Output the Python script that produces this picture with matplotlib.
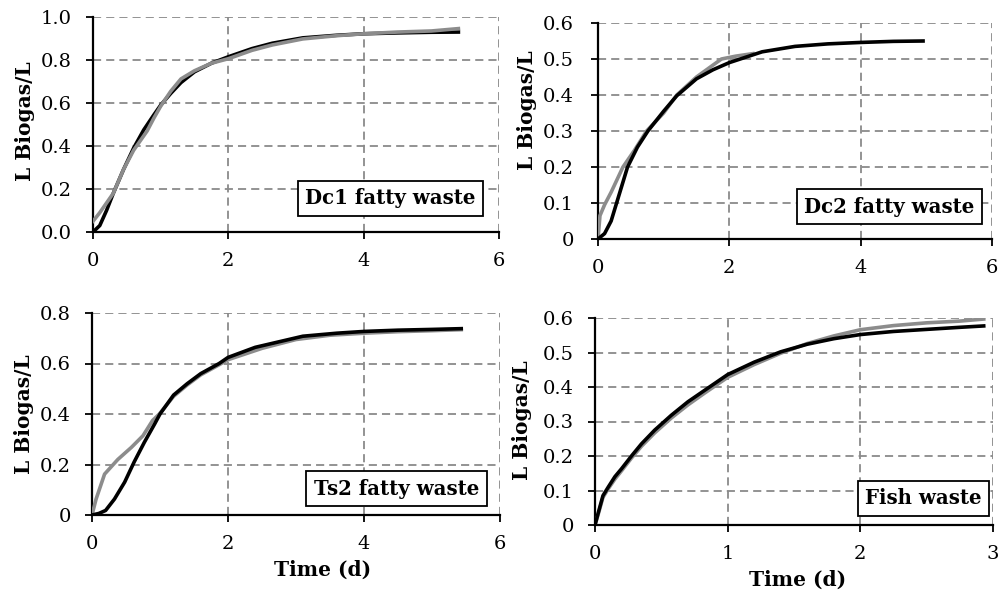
import matplotlib
matplotlib.use("Agg")
import matplotlib.pyplot as plt
from matplotlib.ticker import FuncFormatter, MultipleLocator

# ---------------- data ----------------
# Dc1 fatty waste
dc1_x_model = [0, 0.1, 0.2, 0.3, 0.45, 0.6, 0.75, 0.9, 1.0, 1.15, 1.3, 1.5, 1.75, 2.0, 2.35, 2.65, 3.1, 3.6, 4.0, 4.5, 5.0, 5.4]
dc1_y_model = [0, 0.03, 0.10, 0.18, 0.29, 0.39, 0.475, 0.545, 0.59, 0.645, 0.695, 0.745, 0.785, 0.815, 0.853, 0.878, 0.903, 0.915, 0.922, 0.926, 0.929, 0.93]
dc1_x_exp = [0, 0.1, 0.2, 0.3, 0.45, 0.6, 0.7, 0.8, 0.9, 1.0, 1.15, 1.3, 1.5, 1.75, 2.0, 2.35, 2.65, 3.1, 3.6, 4.0, 4.5, 5.0, 5.4]
dc1_y_exp = [0.05, 0.09, 0.135, 0.18, 0.29, 0.38, 0.425, 0.47, 0.53, 0.585, 0.655, 0.712, 0.75, 0.785, 0.806, 0.845, 0.87, 0.898, 0.913, 0.922, 0.93, 0.935, 0.946]

# Dc2 fatty waste
dc2_x_model = [0, 0.1, 0.2, 0.3, 0.45, 0.6, 0.76, 1.0, 1.2, 1.5, 1.75, 2.0, 2.5, 3.0, 3.5, 4.0, 4.5, 4.95]
dc2_y_model = [0, 0.015, 0.05, 0.11, 0.2, 0.255, 0.3, 0.355, 0.398, 0.445, 0.47, 0.49, 0.52, 0.535, 0.542, 0.546, 0.549, 0.55]
dc2_x_exp = [0, 0.03, 0.1, 0.2, 0.38, 0.55, 0.74, 1.0, 1.2, 1.5, 1.88, 2.1, 2.36]
dc2_y_exp = [0, 0.065, 0.095, 0.13, 0.2, 0.245, 0.3, 0.35, 0.4, 0.45, 0.5, 0.508, 0.515]

# Ts2 fatty waste
ts2_x_model = [0, 0.1, 0.2, 0.33, 0.48, 0.62, 0.77, 0.92, 1.0, 1.2, 1.4, 1.6, 1.87, 2.0, 2.4, 3.1, 3.6, 4.0, 4.5, 5.0, 5.43]
ts2_y_model = [0, 0.006, 0.018, 0.063, 0.13, 0.21, 0.288, 0.36, 0.40, 0.475, 0.52, 0.56, 0.60, 0.624, 0.664, 0.708, 0.72, 0.727, 0.732, 0.735, 0.738]
ts2_x_exp = [0, 0.06, 0.185, 0.38, 0.58, 0.75, 0.89, 0.99, 1.2, 1.4, 1.6, 1.87, 2.0, 2.5, 3.0, 3.5, 4.0, 4.5, 5.0, 5.43]
ts2_y_exp = [0, 0.063, 0.162, 0.22, 0.268, 0.314, 0.374, 0.40, 0.47, 0.515, 0.555, 0.595, 0.615, 0.66, 0.695, 0.712, 0.72, 0.726, 0.73, 0.734]

# Fish waste
fish_x = [0, 0.025, 0.06, 0.1, 0.15, 0.2, 0.275, 0.35, 0.45, 0.575, 0.7, 0.825, 1.0, 1.2, 1.4, 1.6, 1.8, 2.0, 2.25, 2.5, 2.75, 2.93]
fish_y_model = [0, 0.036, 0.085, 0.11, 0.14, 0.163, 0.2, 0.235, 0.275, 0.318, 0.357, 0.39, 0.436, 0.472, 0.502, 0.524, 0.54, 0.552, 0.561, 0.567, 0.573, 0.577]
fish_y_exp = [0, 0.032, 0.08, 0.105, 0.133, 0.157, 0.194, 0.228, 0.267, 0.31, 0.348, 0.382, 0.428, 0.465, 0.498, 0.526, 0.548, 0.566, 0.578, 0.586, 0.591, 0.597]

panel_titles = ["Dc1 fatty waste", "Dc2 fatty waste", "Ts2 fatty waste", "Fish waste"]
y_label = "L Biogas/L"
x_label = "Time (d)"

# ---------------- figure ----------------
plt.rcParams['font.family'] = ['DejaVu Serif']
fig = plt.figure(figsize=(10.04, 5.97), dpi=100)

W, H = 1004.0, 597.0
def rect(l, r, t, b):
    return [l / W, 1 - b / H, (r - l) / W, (b - t) / H]

axes_px = [(93, 499, 17, 232), (598, 992, 23, 239), (92, 500, 313, 515), (595, 993, 318, 525)]
axs = [fig.add_axes(rect(*p)) for p in axes_px]

series = [
    (dc1_x_exp, dc1_y_exp, dc1_x_model, dc1_y_model),
    (dc2_x_exp, dc2_y_exp, dc2_x_model, dc2_y_model),
    (ts2_x_exp, ts2_y_exp, ts2_x_model, ts2_y_model),
    (fish_x, fish_y_exp, fish_x, fish_y_model),
]
xlims = [(0, 6), (0, 6), (0, 6), (0, 3)]
xsteps = [2, 2, 2, 1]
ylims = [(0, 1.0), (0, 0.6), (0, 0.8), (0, 0.6)]
ysteps = [0.2, 0.1, 0.2, 0.1]
gray_on_top = [True, False, False, False]
ylab_pos = [(-0.1675, 0.514), (-0.18, 0.597), (-0.167, 0.50), (-0.183, 0.505)]
box_pos = [(0.733, 0.156), (0.74, 0.15), (0.746, 0.131), (0.825, 0.13)]
ytick_pad = [10, 12, 10, 10]

grid_color = '#8a8a8a'
for i, ax in enumerate(axs):
    xe, ye, xm, ym = series[i]
    zg, zb = (4, 3) if gray_on_top[i] else (3, 4)
    ax.plot(xe, ye, color='#8c8c8c', lw=2.6, zorder=zg, solid_joinstyle='round')
    ax.plot(xm, ym, color='black', lw=2.6, zorder=zb, solid_joinstyle='round')
    ax.set_xlim(*xlims[i])
    ax.set_ylim(*ylims[i])
    ax.xaxis.set_major_locator(MultipleLocator(xsteps[i]))
    ax.yaxis.set_major_locator(MultipleLocator(ysteps[i]))
    if i == 0:
        ax.yaxis.set_major_formatter(FuncFormatter(lambda v, _: f"{v:.1f}"))
    else:
        ax.yaxis.set_major_formatter(FuncFormatter(lambda v, _: "0" if abs(v) < 1e-9 else f"{v:.1f}"))
    ax.xaxis.set_major_formatter(FuncFormatter(lambda v, _: f"{v:.0f}"))
    ax.grid(True, color=grid_color, lw=1.3, linestyle=(0, (4.5, 2.8)))
    ax.set_axisbelow(True)
    for s in ['top', 'right']:
        ax.spines[s].set_visible(False)
    for s in ['left', 'bottom']:
        ax.spines[s].set_linewidth(1.6)
        ax.spines[s].set_color('black')
        ax.spines[s].set_zorder(2.5)
    ax.tick_params(axis='both', labelsize=14, direction='out', length=5.2, width=1.3)
    ax.tick_params(axis='y', pad=ytick_pad[i])
    ax.tick_params(axis='x', pad=9)
    ax.set_ylabel(y_label, fontsize=14.5, fontweight='bold', va='center')
    ax.yaxis.set_label_coords(*ylab_pos[i])
    ax.text(box_pos[i][0], box_pos[i][1], panel_titles[i], transform=ax.transAxes,
            ha='center', va='center', fontsize=14.2, fontweight='bold', zorder=6,
            bbox=dict(boxstyle='square,pad=0.38', fc='white', ec='black', lw=1.3))

axs[2].set_xlabel(x_label, fontsize=14.5, fontweight='bold', va='center')
axs[2].xaxis.set_label_coords(0.564, -0.272)
axs[3].set_xlabel(x_label, fontsize=14.5, fontweight='bold', va='center')
axs[3].xaxis.set_label_coords(0.51, -0.266)

fig.savefig("out.png", dpi=100)
